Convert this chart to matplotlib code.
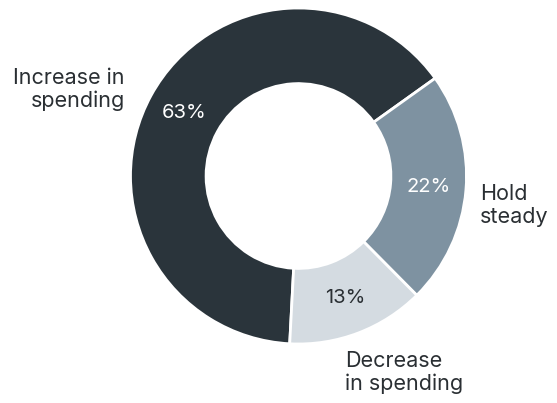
import numpy as np
import matplotlib.pyplot as plt

# Survey answers
labels = ["Increase in\nspending", "Hold\nsteady", "Decrease\nin spending"]
shares = [63, 22, 13]
pct_text = ["63%", "22%", "13%"]

colors = ["#2a343b", "#7e92a1", "#d4dbe1"]
pct_colors = ["white", "white", "#2a2f33"]

plt.rcParams['font.family'] = ['Inter', 'DejaVu Sans']

fig = plt.figure(figsize=(5.57, 4.03), dpi=100)
ax = fig.add_axes([0, 0, 1, 1])

wedges, _ = ax.pie(shares, colors=colors, startangle=267, counterclock=False,
                   radius=1.0, wedgeprops=dict(width=0.45, edgecolor='white', linewidth=2))

# percentage labels in the middle of the ring
for w, txt, c in zip(wedges, pct_text, pct_colors):
    ang = np.deg2rad((w.theta1 + w.theta2) / 2)
    r = 0.775
    ax.text(r * np.cos(ang), r * np.sin(ang), txt, ha='center', va='center',
            fontsize=14.5, color=c)

# category labels outside the ring
text_color = "#2a2f33"
ax.text(-1.033, 0.515, labels[0], ha='right', va='center', fontsize=15.5,
        color=text_color, linespacing=1.15, multialignment='right')
ax.text(1.08, -0.176, labels[1], ha='left', va='center', fontsize=15.5,
        color=text_color, linespacing=1.15)
ax.text(0.277, -1.167, labels[2], ha='left', va='center', fontsize=15.5,
        color=text_color, linespacing=1.15)

# 168 px per data unit, centre at (298.5, 176) px
ax.set_xlim(-298.5 / 168, (557 - 298.5) / 168)
ax.set_ylim(-(403 - 176) / 168, 176 / 168)
ax.set_aspect('equal')
ax.axis('off')

plt.savefig('out.png', dpi=100)
